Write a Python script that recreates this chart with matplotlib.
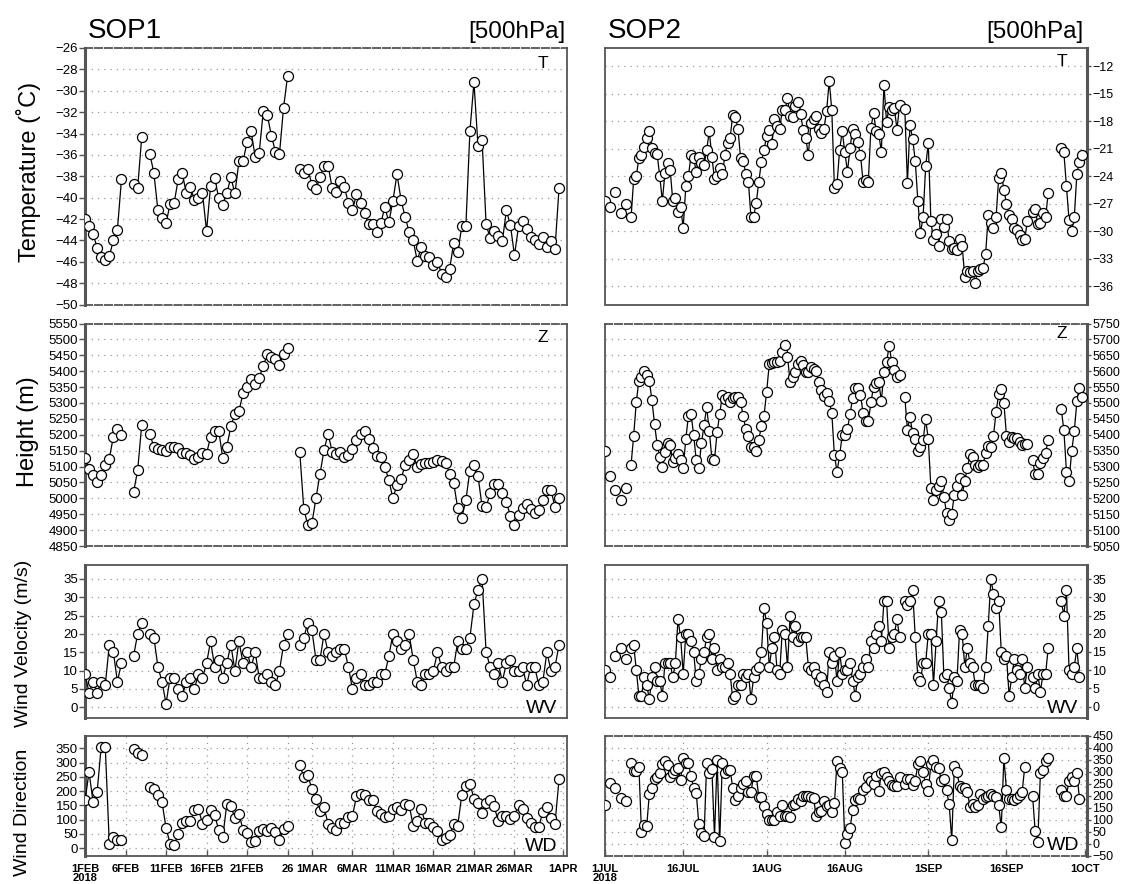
import numpy as np
import matplotlib.pyplot as plt

nan = np.nan

# ---- SOP1: 1 FEB 2018 00Z onward, 12-hourly ----
sop1_T = [-42.0, -42.7, -43.4, -44.7, -45.6, -45.8, -45.5, -44.0, -43.0, -38.3,
          nan, nan, -38.7, -39.1, -34.3, nan, -35.9, -37.7, -41.2, -41.9,
          -42.4, -40.6, -40.5, -38.3, -37.7, -39.6, -39.0, -40.2, -40.0, -39.6,
          -43.1, -38.9, -38.2, -40.0, -40.7, -39.6, -38.1, -39.6, -36.6, -36.6,
          -34.8, -33.8, -36.2, -35.8, -31.9, -32.3, -34.2, -35.7, -35.9, -31.6,
          -28.6, nan, nan, -37.3, -37.7, -37.3, -38.8, -39.2, -38.1, -37.0,
          -37.0, -39.1, -39.5, -38.4, -39.0, -40.5, -41.2, -39.7, -40.5, -41.4,
          -42.5, -42.5, -43.2, -42.4, -40.9, -42.3, -40.3, -37.8, -40.2, -41.8,
          -43.2, -44.0, -45.9, -44.6, -45.5, -45.6, -46.3, -46.0, -47.1, -47.4,
          -46.7, -44.2, -45.1, -42.7, -42.7, -33.8, -29.2, -35.2, -34.6, -42.5,
          -43.8, -43.1, -43.6, -44.1, -41.2, -42.6, -45.4, -42.7, -42.2, -42.9,
          -43.7, -44.0, -44.3, -43.7, -44.6, -44.1, -44.8, -39.1]
sop1_Z = [5126, 5093, 5072, 5050, 5073, 5104, 5125, 5194, 5217, 5199,
          nan, nan, 5020, 5089, 5231, nan, 5203, 5161, 5154, 5152,
          5148, 5160, 5160, 5158, 5143, 5142, 5135, 5125, 5130, 5143,
          5141, 5193, 5213, 5213, 5127, 5163, 5226, 5266, 5275, 5330,
          5351, 5376, 5361, 5380, 5416, 5455, 5445, 5437, 5420, 5453,
          5474, nan, nan, 5147, 4967, 4915, 4921, 5000, 5077, 5152,
          5203, 5147, 5141, 5146, 5130, 5135, 5154, 5185, 5201, 5213,
          5187, 5157, 5133, 5129, 5100, 5057, 5000, 5042, 5060, 5105,
          5119, 5138, 5099, 5108, 5110, 5111, 5114, 5121, 5116, 5112,
          5078, 5048, 4968, 4939, 4994, 5087, 5104, 5070, 4975, 4972,
          5017, 5046, 5044, 5018, 4989, 4944, 4916, 4947, 4968, 4981,
          4965, 4953, 4962, 4996, 5027, 5027, 4972, 5000]
sop1_WV = [9, 4, 7, 4, 7, 6, 17, 15, 7, 12,
           nan, nan, 14, 20, 23, nan, 20, 19, 11, 7,
           1, 8, 8, 5, 3, 7, 8, 5, 9, 8,
           12, 18, 11, 13, 8, 12, 17, 10, 18, 12,
           15, 11, 15, 8, 8, 9, 7, 6, 10, 17,
           20, nan, nan, 17, 19, 23, 21, 13, 13, 20,
           15, 14, 15, 16, 16, 11, 5, 8, 9, 6,
           6, 7, 7, 9, 9, 14, 20, 18, 16, 17,
           20, 13, 7, 6, 9, 9, 10, 15, 11, 10,
           11, 11, 18, 16, 16, 19, 28, 32, 35, 15,
           11, 9, 12, 7, 12, 13, 10, 10, 11, 6,
           11, 11, 6, 7, 15, 10, 11, 17]
sop1_WD = [168, 267, 161, 198, 356, 356, 15, 39, 29, 29,
           nan, nan, 346, 332, 325, nan, 215, 208, 188, 162,
           72, 16, 11, 50, 88, 96, 94, 133, 137, 86,
           100, 135, 115, 65, 38, 156, 147, 106, 121, 65,
           55, 21, 26, 59, 69, 62, 70, 56, 29, 67,
           79, nan, nan, 290, 251, 255, 208, 173, 129, 143,
           86, 70, 65, 88, 90, 108, 112, 182, 190, 186,
           168, 168, 132, 120, 109, 114, 137, 144, 133, 155,
           152, 79, 97, 137, 88, 90, 74, 59, 29, 35,
           46, 86, 79, 188, 217, 226, 174, 159, 123, 159,
           170, 147, 94, 112, 114, 102, 114, 153, 137, 106,
           88, 73, 76, 127, 143, 106, 86, 241]

# ---- SOP2: 1 JUL 2018 00Z onward, 12-hourly ----
sop2_T = [-26.7, nan, -27.4, nan, -25.7, nan, -28.0, nan, -27.0, nan,
          -28.5, -24.3, -24.0, -22.0, -21.7, -20.8, -19.8, -19.1, -20.9, -21.5,
          -21.6, -24.0, -26.7, -23.6, -22.6, -23.3, -26.7, -26.4, -27.9, -27.4,
          -29.6, -25.1, -24.0, -21.7, -22.0, -23.5, -21.9, -22.6, -22.8, -21.1,
          -19.1, -21.9, -24.3, -24.0, -23.1, -23.8, -21.7, -20.4, -19.8, -17.3,
          -17.5, -18.8, -22.0, -22.3, -23.7, -24.6, -28.5, -28.4, -26.9, -24.6,
          -22.4, -21.1, -19.6, -18.9, -20.5, -17.7, -18.5, -18.8, -16.8, -16.8,
          -15.5, -17.4, -17.5, -16.3, -15.9, -17.2, -18.9, -19.8, -21.7, -18.2,
          -17.8, -17.4, -18.8, -19.3, -18.8, -16.9, -13.6, -16.8, -25.3, -24.8,
          -21.1, -19.1, -21.4, -23.5, -20.9, -18.8, -19.4, -20.3, -21.7, -24.6,
          -24.4, -24.6, -18.7, -17.1, -19.1, -19.4, -21.3, -14.0, -18.1, -16.4,
          -16.8, -16.6, -18.9, -16.2, nan, -16.7, -24.7, -18.4, -19.9, -22.3,
          -26.7, -30.2, -28.5, -22.9, -20.4, -28.9, -31.0, -30.3, -31.6, -28.7,
          -29.5, -28.7, -31.1, -31.9, -31.8, -32.0, -30.9, -31.6, -35.0, -34.3,
          -34.4, -34.3, -35.6, -34.3, -34.1, -34.0, -32.5, -28.2, -29.1, -29.7,
          -28.5, -24.2, -23.6, -25.5, -27.0, -28.2, -28.7, -29.6, -29.9, -30.4,
          -31.0, -30.9, -28.9, nan, -27.9, -27.6, -29.2, -29.1, -28.0, -28.5,
          -25.8, nan, nan, nan, nan, -20.9, -21.4, -25.1, -28.8, -30.0,
          -28.5, -23.7, -22.4, -21.7]
sop2_Z = [5350, nan, 5270, nan, 5225, nan, 5195, nan, 5232, nan,
          5306, 5397, 5503, 5570, 5583, 5599, 5588, 5570, 5508, 5434,
          5369, 5331, 5298, 5345, 5373, 5369, 5315, 5326, 5338, 5319,
          5295, 5387, 5460, 5465, 5400, 5319, 5296, 5373, 5431, 5486,
          5413, 5324, 5322, 5408, 5465, 5525, 5512, 5518, 5502, 5516,
          5518, 5518, 5502, 5460, 5418, 5397, 5361, 5361, 5348, 5384,
          5428, 5460, 5535, 5622, 5627, 5628, 5628, 5633, 5659, 5683,
          5645, 5567, 5583, 5596, 5624, 5633, 5620, 5596, 5596, 5614,
          5607, 5599, 5565, 5541, 5523, 5530, 5507, 5467, 5335, 5284,
          5335, 5400, 5400, 5418, 5465, 5516, 5547, 5547, 5526, 5467,
          5442, 5442, 5502, 5551, 5562, 5565, 5507, 5596, 5628, 5680,
          5628, 5604, 5583, 5589, nan, 5518, 5416, 5455, 5405, 5387,
          5348, 5361, 5382, 5448, 5387, 5233, 5195, 5225, 5240, 5254,
          5204, 5155, 5133, 5151, 5212, 5240, 5264, 5209, 5256, 5296,
          5338, 5329, 5306, 5298, 5306, 5305, 5342, 5366, 5361, 5397,
          5471, 5528, 5544, 5499, 5397, 5376, 5392, 5390, 5390, 5376,
          5369, 5371, 5371, nan, 5319, 5275, 5277, 5312, 5327, 5343,
          5385, nan, nan, nan, nan, 5481, 5415, 5284, 5253, 5348,
          5411, 5505, 5547, 5518]
sop2_WV = [10, nan, 8, nan, 14, nan, 16, nan, 13, nan,
           16, 17, 10, 3, 3, 8, 6, 2, 8, 11,
           7, 7, 3, 12, 12, 12, 8, 12, 24, 19,
           9, 20, 20, 18, 15, 7, 9, 13, 15, 19,
           20, 13, 16, 10, 13, 11, 11, 12, 9, 2,
           3, 6, 6, 9, 8, 9, 2, 8, 10, 11,
           15, 27, 23, 11, 16, 19, 10, 9, 21, 20,
           11, 25, 19, 22, 18, 19, 19, 19, 11, 10,
           11, 9, 7, 8, 6, 4, 15, 12, 14, 7,
           15, 9, 10, 10, 12, 7, 3, 8, 9, 11,
           13, 11, 18, 16, 20, 22, 18, 29, 29, 16,
           19, 20, 24, 19, nan, 29, 28, 29, 32, 19,
           8, 7, 12, 12, 20, 20, 6, 18, 29, 26,
           8, 9, 5, 1, 8, 7, 21, 20, 11, 16,
           12, 11, 6, 6, 6, 5, 11, 22, 35, 31,
           27, 29, 15, 13, 14, 3, 8, 13, 10, 9,
           13, 5, 11, nan, 8, 5, 9, 4, 9, 9,
           16, nan, nan, nan, nan, 29, 25, 32, 10, 9,
           11, 16, 8, nan]
sop2_WD = [161, nan, 253, nan, 234, nan, 192, nan, 181, nan,
           337, 305, 305, 322, 48, 78, 74, 209, 234, 269,
           280, 294, 333, 344, 330, 280, 294, 309, 316, 267,
           358, 338, 338, 283, 234, 213, 82, 46, 33, 337,
           294, 312, 30, 350, 12, 338, 294, 309, 309, 234,
           184, 198, 234, 250, 264, 216, 216, 285, 285, 195,
           195, 160, 126, 99, 99, 99, 133, 115, 161, 115,
           115, 113, 161, 165, 188, 181, 198, 202, 198, 195,
           192, 115, 133, 136, 179, 157, 161, 133, 170, 344,
           316, 302, 5, 41, 65, 143, 184, 191, 188, 223,
           237, 281, 261, 250, 285, 220, 294, 298, 280, 264,
           246, 243, 243, 278, nan, 250, 271, 271, 246, 264,
           333, 347, 301, 250, 220, 333, 349, 322, 316, 264,
           271, 223, 167, 16, 326, 298, 243, 233, 233, 216,
           154, 165, 154, 163, 209, 188, 194, 202, 209, 198,
           195, 161, 69, 360, 223, 188, 188, 184, 191, 205,
           216, 322, nan, nan, 202, 53, 9, 294, 308, 347,
           358, nan, nan, nan, nan, 223, 202, 202, 264, 278,
           264, 294, 188, nan]

sop1_ticks = [0, 5, 10, 15, 20, 25, 28, 33, 38, 43, 48, 53, 59]
sop1_labels = ["1FEB\n2018", "6FEB", "11FEB", "16FEB", "21FEB", "26", "1MAR",
               "6MAR", "11MAR", "16MAR", "21MAR", "26MAR", "1APR"]
sop2_ticks = [0, 15, 31, 46, 62, 77, 92]
sop2_labels = ["1JUL\n2018", "16JUL", "1AUG", "16AUG", "1SEP", "16SEP", "1OCT"]

W, H = 1121, 884
fig = plt.figure(figsize=(W / 100, H / 100), dpi=100)
sans = ['Liberation Sans', 'DejaVu Sans']
plt.rcParams['font.family'] = sans

rows = [(48, 304.5), (323.5, 546), (564.5, 717.5), (736, 856)]
cols = [(85, 566.5), (605, 1087)]

# per column: (data, ylim, yticks, dashed top/bottom)
cfg = [
    [(sop1_T, (-50, -26), np.arange(-50, -25, 2), True),
     (sop1_Z, (4850, 5550), np.arange(4850, 5551, 50), True),
     (sop1_WV, (-2.8, 38.9), np.arange(0, 36, 5), False),
     (sop1_WD, (-27, 393), np.arange(0, 351, 50), False)],
    [(sop2_T, (-38, -10), np.arange(-36, -11, 3), False),
     (sop2_Z, (5050, 5750), np.arange(5050, 5751, 50), True),
     (sop2_WV, (-3, 39), np.arange(0, 36, 5), False),
     (sop2_WD, (-50, 450), np.arange(-50, 451, 50), True)],
]
xlims = [(0, 59.42), (0, 92.44)]
names = ["T", "Z", "WV", "WD"]

# tag anchors in pixels: (right x, y, va, size)
tags = [
    [(548, 56, 'top', 12.5), (548, 330, 'top', 12.5), (557, 713, 'baseline', 14), (557, 851, 'baseline', 14)],
    [(1067, 54, 'top', 12.5), (1067, 326, 'top', 12.5), (1078, 713, 'baseline', 14), (1079, 850, 'baseline', 14)],
]

for c, (x0, x1) in enumerate(cols):
    for r, (y0, y1) in enumerate(rows):
        vals, ylim, yt, dashed = cfg[c][r]
        ax = fig.add_axes([x0 / W, 1 - y1 / H, (x1 - x0) / W, (y1 - y0) / H])
        t = np.arange(len(vals)) * 0.5
        ax.plot(t, vals, '-o', color='black', lw=0.9, ms=7.2, mfc='white',
                mec='black', mew=0.9, zorder=3)
        ax.set_xlim(*xlims[c])
        ax.set_ylim(*ylim)
        ax.set_yticks(yt)
        ax.set_yticklabels([f"{v:g}".replace("-", "\u2212") for v in yt])
        ax.yaxis.grid(True, ls=(0, (1, 4)), color='#9a9a9a', lw=0.9)
        for sp in ax.spines.values():
            sp.set_color('#555555')
            sp.set_linewidth(1.3)
        side = 'left' if c == 0 else 'right'
        ax.spines[side].set_linewidth(2.2)
        if dashed:
            ax.spines['top'].set_linestyle((0, (4, 1.5)))
            ax.spines['bottom'].set_linestyle((0, (4, 1.5)))
        if c == 1:
            ax.yaxis.tick_right()
            ax.tick_params(axis='y', direction='out', length=3, width=1,
                           color='#555555', pad=1, labelsize=9)
        else:
            ax.tick_params(axis='y', direction='out', length=4, width=1,
                           color='#555555', pad=1.2, labelsize=9.5)
        if r == 3:
            ticks = sop1_ticks if c == 0 else sop2_ticks
            labels = sop1_labels if c == 0 else sop2_labels
            ax.set_xticks(ticks)
            ax.set_xticklabels(labels, fontweight='bold', fontsize=8,
                               linespacing=0.9)
            ax.tick_params(axis='x', direction='in', length=4, width=1,
                           color='#555555', pad=5.5)
            ax.xaxis.grid(True, ls=(0, (1, 4)), color='#9a9a9a', lw=0.9)
        else:
            ax.set_xticks([])
        tx, ty, va, sz = tags[c][r]
        fig.text(tx / W, 1 - ty / H, names[r], ha='right', va=va, fontsize=sz)

fig.text(88 / W, 1 - 38 / H, "SOP1", fontsize=20, ha='left', va='baseline')
fig.text(565 / W, 1 - 38 / H, "[500hPa]", fontsize=17.5, ha='right', va='baseline')
fig.text(608 / W, 1 - 38 / H, "SOP2", fontsize=20, ha='left', va='baseline')
fig.text(1084 / W, 1 - 38 / H, "[500hPa]", fontsize=17.5, ha='right', va='baseline')

fig.text(29 / W, 1 - 172 / H, "Temperature (˚C)", rotation=90, fontsize=17,
         ha='center', va='center')
fig.text(28 / W, 1 - 432 / H, "Height (m)", rotation=90, fontsize=17,
         ha='center', va='center')
fig.text(24 / W, 1 - 643 / H, "Wind Velocity (m/s)", rotation=90, fontsize=14,
         ha='center', va='center')
fig.text(23 / W, 1 - 812 / H, "Wind Direction", rotation=90, fontsize=14,
         ha='center', va='center')

fig.savefig("out.png", dpi=100)
